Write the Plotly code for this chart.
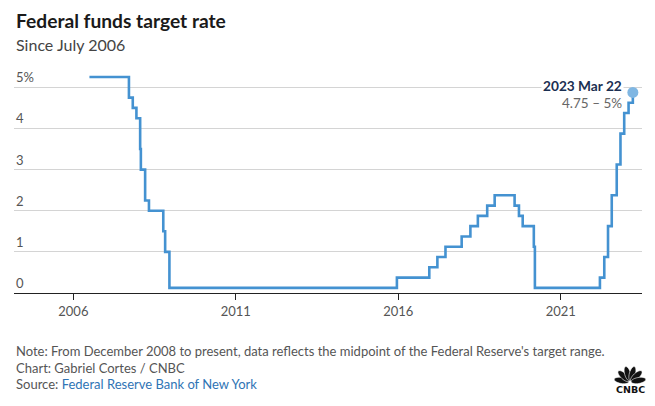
import math
import plotly.graph_objects as go

# ---- data ----
dates = ["2006-07-01", "2007-09-18", "2007-10-31", "2007-12-11", "2008-01-22", "2008-01-30",
         "2008-03-18", "2008-04-30", "2008-10-08", "2008-10-29", "2008-12-16", "2015-12-17",
         "2016-12-15", "2017-03-16", "2017-06-15", "2017-12-14", "2018-03-22", "2018-06-14",
         "2018-09-27", "2018-12-20", "2019-08-01", "2019-09-19", "2019-10-31", "2020-03-04",
         "2020-03-16", "2022-03-17", "2022-05-05", "2022-06-16", "2022-07-28", "2022-09-22",
         "2022-11-03", "2022-12-15", "2023-02-02", "2023-03-22"]
rates = [5.25, 4.75, 4.5, 4.25, 3.5, 3.0, 2.25, 2.0, 1.5, 1.0, 0.125, 0.375,
         0.625, 0.875, 1.125, 1.375, 1.625, 1.875, 2.125, 2.375, 2.125, 1.875, 1.625, 1.125,
         0.125, 0.375, 0.875, 1.625, 2.375, 3.125, 3.875, 4.375, 4.625, 4.875]
x_tick_vals = ["2006-01-01", "2011-01-01", "2016-01-01", "2021-01-01"]
x_tick_text = ["2006", "2011", "2016", "2021"]
y_tick_vals = [0, 1, 2, 3, 4, 5]
y_tick_text = ["0", "1", "2", "3", "4", "5%"]
last_label = "2023 Mar 22"
last_range = "4.75 – 5%"

# ---- layout constants ----
W, H = 655, 406
L, R, T, B = 14, 13, 75, 113
PW, PH = W - L - R, H - T - B
FONT = "Lato"
LINE = "#4492d1"


def px(x):
    return (x - L) / PW


def py(y):
    return (H - B - y) / PH


fig = go.Figure()
fig.add_trace(go.Scatter(x=dates, y=rates, mode="lines", line=dict(color=LINE, width=2.6, shape="hv"),
                         hoverinfo="skip", showlegend=False))
fig.add_trace(go.Scatter(x=[dates[-1]], y=[rates[-1]], mode="markers",
                         marker=dict(color="#80b7e3", size=11, line=dict(width=0)),
                         hoverinfo="skip", showlegend=False))

annotations = []
for v, t in zip(y_tick_vals, y_tick_text):
    annotations.append(dict(x=0, xref="paper", y=v, yref="y", text=t, showarrow=False,
                            xanchor="left", yanchor="bottom", xshift=0, yshift=0,
                            font=dict(family=FONT, size=13, color="#555555")))

annotations.append(dict(x=dates[-1], y=rates[-1], xref="x", yref="y", text="<b>" + last_label + "</b>",
                        showarrow=False, xanchor="right", yanchor="middle", xshift=-9, yshift=7,
                        bgcolor="white", borderpad=1,
                        font=dict(family=FONT, size=13.7, color="#1b2f52")))
annotations.append(dict(x=dates[-1], y=rates[-1], xref="x", yref="y", text=last_range,
                        showarrow=False, xanchor="right", yanchor="middle", xshift=-9, yshift=-11,
                        font=dict(family=FONT, size=13.5, color="#666666")))

annotations.append(dict(x=px(14), y=py(21), xref="paper", yref="paper", text="<b>Federal funds target rate</b>",
                        showarrow=False, xanchor="left", yanchor="middle",
                        font=dict(family=FONT, size=19.2, color="#1a1a1a")))
annotations.append(dict(x=px(14), y=py(45), xref="paper", yref="paper", text="Since July 2006",
                        showarrow=False, xanchor="left", yanchor="middle",
                        font=dict(family=FONT, size=16, color="#444444")))

foot = [
    ("Note: From December 2008 to present, data reflects the midpoint of the Federal Reserve's target range.", 351),
    ("Chart: Gabriel Cortes / CNBC", 368),
    ("Source: <span style='color:#2f74b5'>Federal Reserve Bank of New York</span>", 384),
]
for t, y in foot:
    annotations.append(dict(x=px(14), y=py(y), xref="paper", yref="paper", text=t, showarrow=False,
                            xanchor="left", yanchor="middle",
                            font=dict(family=FONT, size=13, color="#555555")))

# CNBC logo (peacock + wordmark)
shapes = []
cx, cy = 630, 382
angles = [170, 137, 106, 74, 43, 10]
for a in angles:
    ar = math.radians(a)
    ux, uy = math.cos(ar), -math.sin(ar)
    vx, vy = -uy, ux
    pts = []
    for k in range(28):
        t = 2 * math.pi * k / 28
        r = 8.6 + 7.4 * math.cos(t)
        s = 3.0 * math.sin(t)
        X = cx + ux * r + vx * s
        Y = cy + uy * r + vy * s
        pts.append((px(X), py(Y)))
    path = "M " + " L ".join(f"{p[0]:.5f},{p[1]:.5f}" for p in pts) + " Z"
    shapes.append(dict(type="path", xref="paper", yref="paper", path=path,
                       fillcolor="#111111", line=dict(color="white", width=0.6)))
annotations.append(dict(x=px(630), y=py(389), xref="paper", yref="paper", text="<b>CNBC</b>",
                        showarrow=False, xanchor="center", yanchor="middle",
                        font=dict(family="DejaVu Sans", size=9.5, color="#111111")))

fig.update_layout(
    width=W, height=H, margin=dict(l=L, r=R, t=T, b=B),
    paper_bgcolor="white", plot_bgcolor="white",
    xaxis=dict(type="date", range=["2004-03-05", "2023-07-03"], tickvals=x_tick_vals, ticktext=x_tick_text,
               showgrid=False, zeroline=False, showline=True, linecolor="#222222", linewidth=1,
               ticks="outside", ticklen=6, tickcolor="#222222", tickwidth=1,
               tickfont=dict(family=FONT, size=13, color="#555555")),
    yaxis=dict(range=[0, 5.3], tickvals=y_tick_vals, showticklabels=False, showgrid=True,
               gridcolor="#d4d4d4", gridwidth=1, zeroline=False, showline=False, ticks=""),
    annotations=annotations, shapes=shapes, showlegend=False,
)

fig.write_html("out.html", config={"displayModeBar": False},
               post_script="document.body.style.margin='0';")
